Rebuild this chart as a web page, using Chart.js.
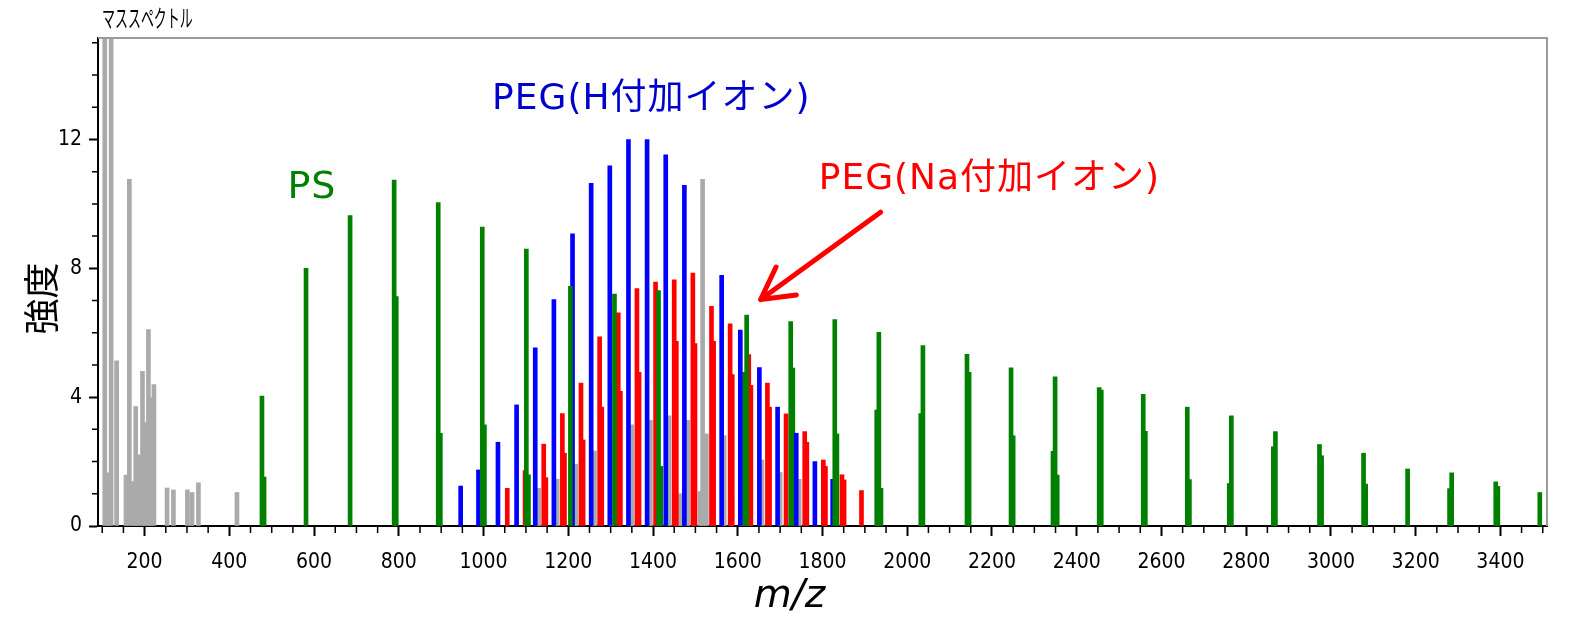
<!DOCTYPE html>
<html>
<head>
<meta charset="utf-8">
<script src="https://cdn.jsdelivr.net/npm/chart.js@4.4.1/dist/chart.umd.min.js"></script>
<style>
  html, body { margin: 0; padding: 0; background: #fff; }
  canvas { display: block; }
</style>
</head>
<body>
<canvas id="ms" width="1581" height="641"></canvas>
<script>
// peak positions (m/z) and intensities
const psMz = [477, 581, 685, 789, 893, 997, 1101, 1205, 1309, 1413, 1621, 1725, 1829, 1933, 2037,
  2141, 2245, 2349, 2453, 2557, 2661, 2765, 2869, 2973, 3077, 3181, 3285, 3389, 3493];
const psInt = [4.03, 8.0, 9.64, 10.74, 10.04, 9.28, 8.6, 7.44, 7.2, 7.31, 6.55, 6.35, 6.41, 6.01, 5.6,
  5.33, 4.91, 4.63, 4.3, 4.09, 3.69, 3.42, 2.93, 2.53, 2.26, 1.77, 1.65, 1.37, 1.04];

// isotope shoulders next to the PS peaks
const psIsoMz = [482, 794, 898, 1002, 1106, 1418, 1616, 1730, 1834, 1928, 1938, 2032, 2146, 2250,
  2344, 2354, 2458, 2562, 2666, 2760, 2864, 2978, 3082, 3280, 3394];
const psIsoInt = [1.52, 7.12, 2.88, 3.14, 1.59, 1.85, 4.77, 4.9, 2.86, 3.6, 1.17, 3.49, 4.77, 2.8,
  2.32, 1.58, 4.22, 2.94, 1.44, 1.32, 2.46, 2.18, 1.3, 1.16, 1.23];

const pegHMz = [946, 988, 1034, 1078, 1122, 1166, 1210, 1254, 1298, 1342, 1386, 1430, 1474,
  1562, 1606, 1651, 1694, 1738, 1782, 1824];
const pegHInt = [1.24, 1.74, 2.6, 3.76, 5.53, 7.03, 9.07, 10.64, 11.18, 12.0, 12.0, 11.52, 10.58,
  7.78, 6.08, 4.92, 3.69, 2.88, 2.0, 1.45];

const pegNaMz = [1056, 1098, 1142, 1186, 1230, 1274, 1318, 1362, 1406, 1450, 1494, 1538, 1582,
  1626, 1670, 1714, 1758, 1802, 1846, 1892];
const pegNaInt = [1.17, 1.72, 2.54, 3.49, 4.44, 5.87, 6.62, 7.37, 7.57, 7.64, 7.85, 6.82, 6.28,
  5.32, 4.44, 3.48, 2.93, 2.05, 1.59, 1.1];

const pegNaIsoMz = [1147, 1191, 1235, 1279, 1323, 1367, 1455, 1499, 1543, 1587, 1631, 1675, 1763, 1807, 1851];
const pegNaIsoInt = [1.5, 2.26, 2.67, 3.69, 4.18, 4.77, 5.73, 5.66, 5.73, 4.7, 4.37, 3.69, 2.6, 1.85, 1.43];

// unassigned peaks (grey)
const otherMz = [106, 113, 121, 134, 156, 164, 172, 179, 187, 195, 201, 209, 215, 222, 253, 268,
  301, 312, 327, 418, 1130, 1174, 1218, 1262, 1302, 1350, 1394, 1412, 1438, 1454, 1465, 1482,
  1497, 1511, 1517, 1526, 1542, 1568, 1586, 1610, 1629, 1657, 1700, 1745];
const otherInt = [16, 1.65, 16, 5.13, 1.58, 10.76, 1.38, 3.71, 2.21, 4.8, 3.21, 6.1, 3.98, 4.39, 1.18, 1.12,
  1.12, 1.04, 1.34, 1.04, 1.17, 1.45, 1.92, 2.33, 2.83, 3.14, 3.28, 1.03, 3.42, 1.1, 1.0, 3.28,
  1.17, 1.07, 10.76, 2.86, 1.22, 2.81, 1.04, 2.4, 0.96, 2.05, 1.66, 1.45];

const mzMin = 90, mzMax = 3510, mzStep = 200;
const intMax = 15.15;

const GREEN = '#008000', BLUE = '#0000ff', RED = '#ff0000', GREY = '#aaaaaa';

const notes = [
  { text: 'PS', mz: 537, at: 10.19, color: GREEN, size: 38 },
  { text: 'PEG(H付加イオン)', mz: 1020, at: 12.94, color: '#0000cd', size: 36 },
  { text: 'PEG(Na付加イオン)', mz: 1791, at: 10.45, color: RED, size: 36 }
];
const arrow = { from: [1937, 9.74], to: [1654, 7.03] };

function peaks(mz, inten) {
  return mz.map((m, i) => ({ x: m, y: inten[i] }));
}

function series(label, mz, inten, color) {
  return {
    label: label,
    data: peaks(mz, inten),
    backgroundColor: color,
    barThickness: 4,
    grouped: false
  };
}

const tickFont = { family: "'Liberation Sans Narrow', 'DejaVu Sans Condensed', sans-serif", size: 21 };
const labelFont = "'DejaVu Sans', 'Noto Sans CJK JP', sans-serif";

const decor = {
  id: 'decor',
  afterDraw(chart) {
    const { ctx, chartArea: a, scales: { x, y } } = chart;
    ctx.save();

    // grey frame on top and right
    ctx.strokeStyle = '#9a9a9a';
    ctx.lineWidth = 2;
    ctx.beginPath();
    ctx.moveTo(a.left, a.top);
    ctx.lineTo(a.right, a.top);
    ctx.lineTo(a.right, a.bottom);
    ctx.stroke();

    // minor ticks
    ctx.strokeStyle = '#000';
    ctx.lineWidth = 1.5;
    ctx.beginPath();
    for (let v = 100; v <= mzMax; v += 50) {
      if (v % 200 === 0) continue;
      const px = x.getPixelForValue(v);
      ctx.moveTo(px, a.bottom);
      ctx.lineTo(px, a.bottom + 7);
    }
    for (let v = 1; v <= intMax; v++) {
      if (v % 4 === 0) continue;
      const py = y.getPixelForValue(v);
      ctx.moveTo(a.left, py);
      ctx.lineTo(a.left - 6, py);
    }
    ctx.stroke();

    // title
    ctx.fillStyle = '#000';
    ctx.textBaseline = 'middle';
    ctx.font = "24px 'Noto Sans CJK JP'";
    ctx.save();
    ctx.translate(a.left + 4, a.top - 20);
    ctx.scale(0.54, 1);
    ctx.fillText('マススペクトル', 0, 0);
    ctx.restore();

    // axis titles
    ctx.textAlign = 'center';
    ctx.textBaseline = 'alphabetic';
    ctx.font = "oblique 39px 'DejaVu Sans'";
    ctx.fillText('m/z', x.getPixelForValue(1722), a.bottom + 81);

    ctx.save();
    ctx.translate(a.left - 57, y.getPixelForValue(7.06));
    ctx.rotate(-Math.PI / 2);
    ctx.textBaseline = 'middle';
    ctx.font = "36px 'Noto Sans CJK JP'";
    ctx.fillText('強度', 0, 0);
    ctx.restore();

    // peak group labels
    ctx.textAlign = 'left';
    ctx.letterSpacing = '1px';
    notes.forEach(n => {
      ctx.fillStyle = n.color;
      ctx.font = n.size + 'px ' + labelFont;
      ctx.fillText(n.text, x.getPixelForValue(n.mz), y.getPixelForValue(n.at));
    });

    // arrow pointing at the Na adduct series
    const x0 = x.getPixelForValue(arrow.from[0]), y0 = y.getPixelForValue(arrow.from[1]);
    const x1 = x.getPixelForValue(arrow.to[0]), y1 = y.getPixelForValue(arrow.to[1]);
    const ang = Math.atan2(y0 - y1, x0 - x1);
    const head = 36, spread = 0.5;
    ctx.strokeStyle = RED;
    ctx.lineWidth = 5;
    ctx.lineCap = 'round';
    ctx.lineJoin = 'round';
    ctx.beginPath();
    ctx.moveTo(x0, y0);
    ctx.lineTo(x1, y1);
    ctx.moveTo(x1 + head * Math.cos(ang - spread), y1 + head * Math.sin(ang - spread));
    ctx.lineTo(x1, y1);
    ctx.lineTo(x1 + head * Math.cos(ang + spread), y1 + head * Math.sin(ang + spread));
    ctx.stroke();

    ctx.restore();
  }
};

new Chart(document.getElementById('ms'), {
  type: 'bar',
  data: {
    datasets: [
      series('PS', psMz, psInt, GREEN),
      series('PEG (H)', pegHMz, pegHInt, BLUE),
      series('PEG (Na)', pegNaMz, pegNaInt, RED),
      series('PS isotope', psIsoMz, psIsoInt, GREEN),
      series('PEG (Na) isotope', pegNaIsoMz, pegNaIsoInt, RED),
      series('other', otherMz, otherInt, GREY)
    ]
  },
  options: {
    responsive: false,
    devicePixelRatio: 1,
    animation: false,
    layout: { padding: { top: 38, right: 34, bottom: 0, left: 0 } },
    plugins: {
      legend: { display: false },
      tooltip: { enabled: false }
    },
    scales: {
      x: {
        type: 'linear',
        min: mzMin,
        max: mzMax,
        offset: false,
        border: { color: '#000', width: 2 },
        grid: { offset: false, drawOnChartArea: false, tickLength: 10, tickColor: '#000', tickWidth: 2 },
        ticks: {
          color: '#000', padding: 14, maxRotation: 0, autoSkip: false, font: tickFont,
          callback: v => String(v)
        },
        afterBuildTicks(s) {
          const t = [];
          for (let v = mzStep; v <= mzMax; v += mzStep) t.push({ value: v });
          s.ticks = t;
        },
        afterFit(s) { s.height = 115; }
      },
      y: {
        min: 0,
        max: intMax,
        border: { color: '#000', width: 2 },
        grid: { drawOnChartArea: false, tickLength: 9, tickColor: '#000', tickWidth: 2 },
        ticks: { stepSize: 4, includeBounds: false, color: '#000', padding: 7, font: tickFont },
        afterFit(s) { s.width = 98; }
      }
    }
  },
  plugins: [decor]
});
</script>
</body>
</html>
